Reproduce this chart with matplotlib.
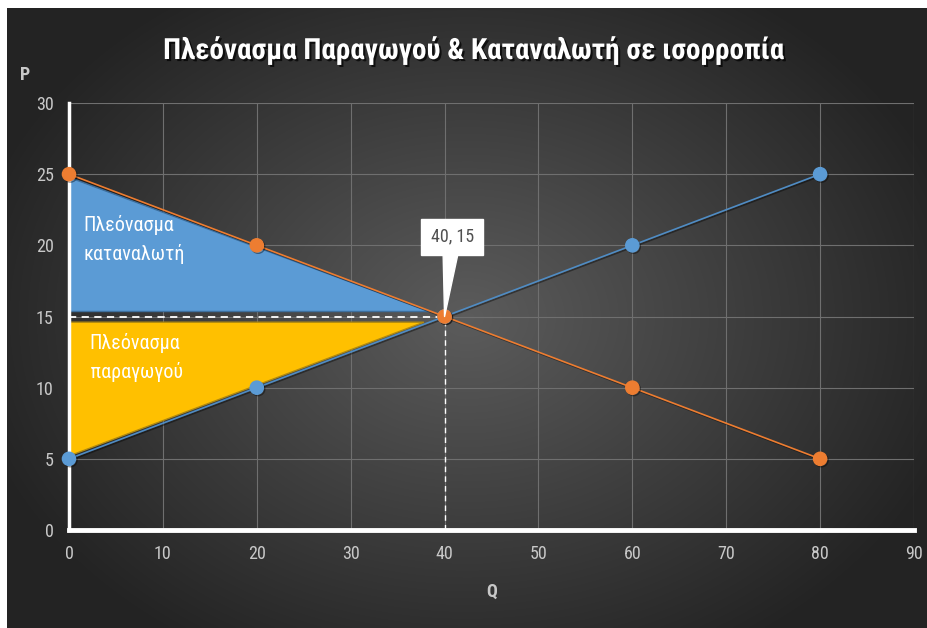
import numpy as np
import matplotlib
matplotlib.use("Agg")
import matplotlib.pyplot as plt
import matplotlib.patheffects as pe
from matplotlib import font_manager

# ---------------- data ----------------
q = [0, 20, 40, 60, 80]
supply_p = [5, 10, 15, 20, 25]
demand_p = [25, 20, 15, 10, 5]

consumer_area_q = [0, 0, 38.3]
consumer_area_p = [24.8, 15.4, 15.4]
producer_area_q = [0, 37.8, 0]
producer_area_p = [14.6, 14.6, 5.2]

x_ticks = [0, 10, 20, 30, 40, 50, 60, 70, 80, 90]
y_ticks = [0, 5, 10, 15, 20, 25, 30]

title = "Πλεόνασμα Παραγωγού & Καταναλωτή σε ισορροπία"
consumer_label = "Πλεόνασμα\nκαταναλωτή"
producer_label = "Πλεόνασμα\n παραγωγού"

# ---------------- fonts ----------------
names = {f.name for f in font_manager.fontManager.ttflist}
FONT = "Liberation Sans"
for cand in ["Roboto Condensed", "Liberation Sans Narrow", "Open Sans Condensed", "Roboto"]:
    if cand in names:
        FONT = cand
        break
plt.rcParams['font.family'] = [FONT, 'DejaVu Sans']

BLUE = "#5B9BD5"
ORANGE = "#ED7D31"
YELLOW = "#FFC000"
TICK = "#c8c8c8"

fig = plt.figure(figsize=(9.28, 6.28), dpi=100, facecolor="white")

# background gradient
bg = fig.add_axes([7/928, 0, 1 - 7/928, 1 - 8/628])
bg.set_axis_off()
yy, xx = np.mgrid[0:1:300j, 0:1:400j]
r = np.sqrt(((xx - 0.5) / 0.75) ** 2 + ((yy - 0.5) / 0.85) ** 2)
val = np.clip(0.36 - 0.30 * r, 0.14, 0.36)
bg.imshow(np.dstack([val, val, val]), extent=[0, 1, 0, 1], aspect='auto', interpolation='bilinear')
bg.set_xlim(0, 1); bg.set_ylim(0, 1)

ax = fig.add_axes([69/928, 1 - 530/628, (914 - 69)/928, (530 - 103)/628])
ax.set_facecolor("none")
ax.set_xlim(0, 90)
ax.set_ylim(0, 30)
ax.set_xticks(x_ticks)
ax.set_yticks(y_ticks)
ax.grid(True, color="#6f6f6f", lw=0.8, zorder=0)
ax.set_axisbelow(True)
for s in ["top", "right"]:
    ax.spines[s].set_visible(False)
ax.spines["left"].set_color("white"); ax.spines["left"].set_linewidth(2.5)
ax.spines["bottom"].set_color("white"); ax.spines["bottom"].set_linewidth(3.5)
ax.tick_params(length=0, colors=TICK, labelsize=13, pad=11)
for lab in ax.get_xticklabels() + ax.get_yticklabels():
    lab.set_color(TICK)

# filled surplus areas
ax.fill(consumer_area_q, consumer_area_p, color=BLUE, ec="#3d6f9e", lw=1, zorder=2, clip_on=False)
ax.fill(producer_area_q, producer_area_p, color=YELLOW, ec="#b08a10", lw=1, zorder=2, clip_on=False)

# equilibrium
i_eq = int(np.argmin(np.abs(np.array(supply_p) - np.array(demand_p))))
qe, pe_ = q[i_eq], supply_p[i_eq]

ax.plot([0, qe], [pe_, pe_], color="white", lw=1.3, ls=(0, (4, 3)), zorder=3.5, clip_on=False)
ax.plot([qe, qe], [0, pe_], color="white", lw=1.0, ls=(0, (4, 3)), zorder=3.5)

shadow = [pe.SimpleLineShadow(offset=(1, -1), shadow_color="black", alpha=0.4), pe.Normal()]
ax.plot(q, supply_p, color="#4f8cc4", lw=1.2, marker="o", ms=9.5, mfc=BLUE, mec=BLUE, zorder=4,
        clip_on=False, path_effects=shadow)
ax.plot(q, demand_p, color=ORANGE, lw=1.2, marker="o", ms=9.5, mec=ORANGE, zorder=5,
        clip_on=False, path_effects=shadow)

# labels inside areas
ax.text(1.5, 20.4, consumer_label, color="white", fontsize=14.5, ha="left", va="center",
        linespacing=1.55, zorder=6)
ax.text(7.0, 12.1, producer_label, color="white", fontsize=14.5, ha="center", va="center",
        linespacing=1.55, zorder=6)

# callout
ax.annotate(f"{qe}, {pe_}", xy=(qe, pe_), xytext=(qe + 0.8, 20.6), color="#505050", fontsize=13,
            ha="center", va="center", zorder=7,
            bbox=dict(boxstyle="square,pad=0.5", fc="white", ec="white"),
            arrowprops=dict(arrowstyle="wedge,tail_width=0.8,shrink_factor=0.5", fc="white", ec="white",
                            shrinkA=0, shrinkB=0))

# axis titles
fig.text(25/928, 1 - 75/628, "P", color=TICK, fontsize=13, fontweight="bold", ha="center", va="center")
fig.text(492/928, 1 - 592/628, "Q", color=TICK, fontsize=13, fontweight="bold", ha="center", va="center")

# chart title, sized to the reference's width
t = fig.text(474/928, 1 - 50/628, title, color="white", fontsize=24, fontweight="bold",
             ha="center", va="center",
             path_effects=[pe.withSimplePatchShadow(offset=(1.5, -1.5), shadow_rgbFace="black", alpha=0.7)])
fig.canvas.draw()
w = t.get_window_extent(fig.canvas.get_renderer()).width
t.set_fontsize(24 * 622 / w)

fig.savefig("out.png", dpi=100, facecolor="white")
